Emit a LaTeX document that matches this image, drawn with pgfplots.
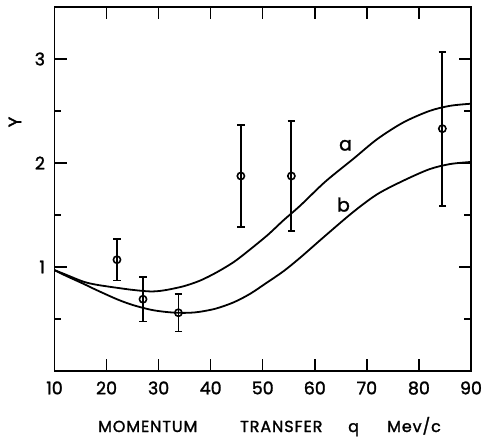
\documentclass[border=0pt]{standalone}
\usepackage{pgfplots}
\pgfplotsset{compat=1.18}
\usepackage{fontspec}
\setmainfont{Poppins}[RawFeature={embolden=1.6}]
\newfontfamily\lblfont{Poppins}[RawFeature={embolden=1.6}, LetterSpace=6]
\usetikzlibrary{calc}
\begin{document}
\begin{tikzpicture}
\begin{axis}[
  scale only axis,
  width=416.5bp, height=364bp,
  xmin=10, xmax=90, ymin=0, ymax=3.5,
  xtick={10,20,...,90},
  ytick={1,2,3},
  minor ytick={0.5,1.5,2.5},
  tick align=inside,
  major tick length=12bp,
  minor tick length=7bp,
  axis line style={line width=1.4bp},
  tick style={line width=1.4bp, black},
  /pgf/number format/assume math mode=true,
  ticklabel style={font=\fontsize{17.5}{17.5}\selectfont},
  xticklabel style={yshift=-7bp},
  yticklabel style={xshift=-6bp},
  clip=false,
]
\addplot[black, line width=1.8bp, smooth] coordinates {
(10,0.97)(12,0.93)(15.5,0.86)(18,0.83)(22,0.80)(25,0.78)(28.4,0.765)(31,0.775)
(34.8,0.815)(38,0.87)(41.2,0.95)(44.5,1.05)(47.6,1.17)(51,1.31)(54,1.45)
(57.2,1.59)(62,1.82)(67.4,2.04)(72,2.23)(77,2.39)(82,2.50)(86,2.55)(90,2.57)};
\addplot[black, line width=1.8bp, smooth] coordinates {
(10,0.97)(12,0.92)(15.5,0.84)(18,0.78)(22,0.69)(25,0.635)(28.4,0.59)(31,0.57)
(33.5,0.56)(36,0.56)(38,0.57)(41,0.60)(44.4,0.66)(47.5,0.74)(50.8,0.85)
(54,0.96)(57.2,1.09)(62,1.30)(67.4,1.53)(72,1.70)(77,1.83)(82,1.94)(86,1.99)(90,2.01)};
\addplot[black, line width=1.8bp, only marks, mark=o,
  mark size=3.6bp, mark options={fill=white, line width=1.6bp},
  error bars/.cd, y dir=both, y explicit,
  error bar style={line width=1.8bp},
  error mark options={rotate=90, mark size=3.8bp, line width=1.8bp}]
  coordinates {
  (22,1.07) +- (0,0.20)
  (27,0.69) +- (0,0.215)
  (33.8,0.56) +- (0,0.18)
  (45.8,1.875) +- (0,0.49)
  (55.5,1.875) +- (0,0.53)
  (84.5,2.33) +- (0,0.74)
};
\node[font=\fontsize{19}{19}\selectfont] at (axis cs:65.9,2.17) {a};
\node[font=\fontsize{19}{19}\selectfont] at (axis cs:65.5,1.60) {b};
\coordinate (sw) at (rel axis cs:0,0);
\end{axis}
\begin{scope}[font=\lblfont\fontsize{16}{16}\selectfont]
\node[anchor=base west, inner sep=0] at ($(sw)+(43.5bp,-61bp)$) {MOMENTUM};
\node[anchor=base west, inner sep=0] at ($(sw)+(185.5bp,-61bp)$) {TRANSFER};
\node[anchor=base west, inner sep=0] at ($(sw)+(293.5bp,-61bp)$) {q};
\node[anchor=base west, inner sep=0] at ($(sw)+(332.5bp,-61bp)$) {Mev/c};
\end{scope}
\node[rotate=90, font=\fontsize{18}{18}\selectfont] at ($(sw)+(-39.5bp,249bp)$) {Y};
\pgfresetboundingbox
\path[use as bounding box] ($(sw)+(-54.5bp,-69bp)$) rectangle ($(sw)+(428.5bp,371bp)$);
\end{tikzpicture}
\end{document}
